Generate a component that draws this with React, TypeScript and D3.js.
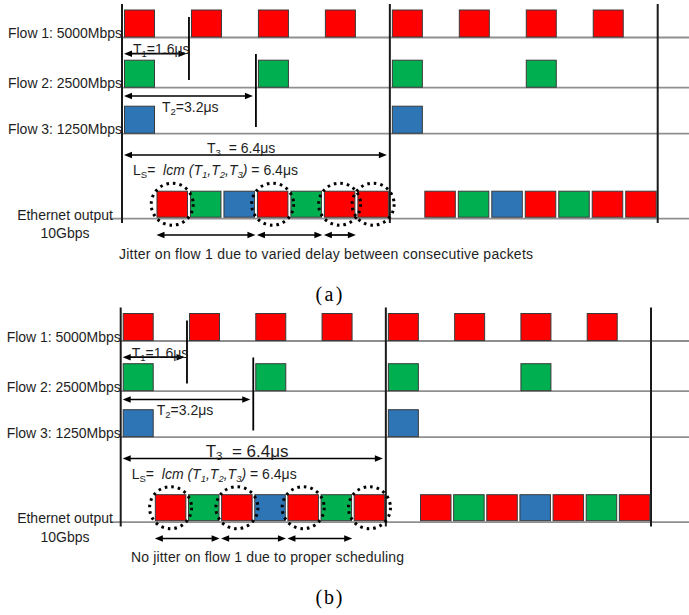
import React from "react";
import * as d3 from "d3";

// ---------- data ----------
const flowLabels = ["Flow 1: 5000Mbps", "Flow 2: 2500Mbps", "Flow 3: 1250Mbps"];
const flow1Times = [0, 1.6, 3.2, 4.8, 6.4, 8.0, 9.6, 11.2];
const flow2Times = [0, 3.2, 6.4, 9.6];
const flow3Times = [0, 6.4];
const periods = [1.6, 3.2, 6.4];
const periodLabels = ["=1.6μs", "=3.2μs", "  = 6.4μs"];
const hyperperiod = 6.4;
const horizon = 12.8;

// Ethernet output: slot start times (μs) and the flow of each packet
const outSlotsA = [0.8, 1.6, 2.4, 3.2, 4.0, 4.8, 5.6, 7.2, 8.0, 8.8, 9.6, 10.4, 11.2, 12.0];
const outFlowsA = [1, 2, 3, 1, 2, 1, 1, 1, 2, 3, 1, 2, 1, 1];
const outSlotsB = [0.8, 1.6, 2.4, 3.2, 4.0, 4.8, 5.6, 7.2, 8.0, 8.8, 9.6, 10.4, 11.2, 12.0];
const outFlowsB = [1, 2, 1, 3, 1, 2, 1, 1, 2, 1, 3, 1, 2, 1];

const captions = [
  "Jitter on flow 1 due to varied delay between consecutive packets",
  "No jitter on flow 1 due to proper scheduling",
];
const panelTags = ["(a)", "(b)"];

// ---------- style ----------
const flowColors = ["#FF0000", "#00B050", "#2E75B6"];
const FONT = "'Liberation Sans', Arial, sans-serif";
const TEXT = "#1e1e1e";
const BOX_W = 30;
const BOX_H = 27;

function Arrow({ x1, x2, y }: { x1: number; x2: number; y: number }) {
  const h = 8, w = 3.3;
  return (
    <g>
      <line x1={x1 + 5} x2={x2 - 5} y1={y} y2={y} stroke="#000" strokeWidth={1.7} />
      <path d={`M${x1},${y} L${x1 + h},${y - w} L${x1 + h},${y + w} Z`} fill="#000" />
      <path d={`M${x2},${y} L${x2 - h},${y - w} L${x2 - h},${y + w} Z`} fill="#000" />
    </g>
  );
}

type PanelProps = {
  y0: number;
  xr: [number, number];
  slots: number[];
  flows: number[];
  caption: string;
  captionX: number;
  captionLen: number;
  t3Size: number;
  t2dx: number;
  tag: string;
  tagY: number;
};

function Panel(p: PanelProps) {
  const x = d3.scaleLinear().domain([0, horizon]).range(p.xr);
  const Y = (v: number) => p.y0 + v;
  const rowBase = [37.5, 87.7, 133.7];
  const ethBase = 218.7;
  const flowTimes = [flow1Times, flow2Times, flow3Times];
  const x0 = x(0);

  // flow-1 packets of the first hyper-period in the output
  const circled = p.slots
    .map((t, i) => ({ t, f: p.flows[i] }))
    .filter((d) => d.f === 1 && d.t < hyperperiod);

  const arrowYs = [53.7, 96, 155];
  const markerSpans: [number, number][] = [[17, 80], [54, 127]];

  return (
    <g fontFamily={FONT} fill={TEXT}>
      {/* row baselines */}
      {rowBase.map((b, i) => (
        <line key={"rb" + i} x1={x0} x2={689} y1={Y(b)} y2={Y(b)} stroke="#8f8f8f" strokeWidth={1.8} />
      ))}
      <line x1={110} x2={689} y1={Y(ethBase)} y2={Y(ethBase)} stroke="#8f8f8f" strokeWidth={1.8} />

      {/* hyper-period boundaries */}
      {[0, hyperperiod, horizon].map((t, i) => (
        <line key={"vb" + i} x1={x(t)} x2={x(t)} y1={Y(4)} y2={Y(223)} stroke="#1a1a1a" strokeWidth={2} />
      ))}

      {/* flow labels */}
      {flowLabels.map((l, i) => (
        <text key={"fl" + i} x={x0} y={Y(rowBase[i] + 0.7)} textAnchor="end" fontSize={14}
          textLength={114} lengthAdjust="spacing">{l}</text>
      ))}

      {/* flow packets */}
      {flowTimes.map((ts, fi) =>
        ts.map((t, j) => (
          <rect key={`p${fi}-${j}`} x={x(t) + 2.5} y={Y(rowBase[fi] - 0.5 - BOX_H)} width={BOX_W} height={BOX_H}
            fill={flowColors[fi]} stroke="#3a3a3a" strokeWidth={1} />
        ))
      )}

      {/* period markers */}
      {periods.slice(0, 2).map((T, i) => (
        <line key={"pm" + i} x1={x(T)} x2={x(T)} y1={Y(markerSpans[i][0])} y2={Y(markerSpans[i][1])}
          stroke="#000" strokeWidth={1.8} />
      ))}

      {/* period arrows */}
      {periods.map((T, i) => (
        <Arrow key={"pa" + i} x1={x0 + 2} x2={x(T) - (i === 0 ? 2.5 : 3)} y={Y(arrowYs[i])} />
      ))}
      <text x={x0 + 11} y={Y(54)} fontSize={14}>
        T<tspan fontSize={9.5} dy={3}>1</tspan><tspan dy={-3}>{periodLabels[0]}</tspan>
      </text>
      <text x={x0 + p.t2dx} y={Y(111.5)} fontSize={14}>
        T<tspan fontSize={9.5} dy={3}>2</tspan><tspan dy={-3}>{periodLabels[1]}</tspan>
      </text>
      <text x={x0 + 85} y={Y(153)} fontSize={p.t3Size} xmlSpace="preserve" style={{ whiteSpace: "pre" }}>
        T<tspan fontSize={p.t3Size * 0.68} dy={3}>3</tspan><tspan dy={-3}>{periodLabels[2]}</tspan>
      </text>

      {/* hyper-period formula */}
      <text x={x0 + 11} y={Y(175)} fontSize={14} style={{ whiteSpace: "pre" }}>
        L<tspan fontSize={9.5} dy={3}>S</tspan><tspan dy={-3}>{"=  "}</tspan>
        <tspan fontStyle="italic">lcm (T</tspan><tspan fontStyle="italic" fontSize={9.5} dy={3}>1</tspan>
        <tspan fontStyle="italic" dy={-3}>,T</tspan><tspan fontStyle="italic" fontSize={9.5} dy={3}>2</tspan>
        <tspan fontStyle="italic" dy={-3}>,T</tspan><tspan fontStyle="italic" fontSize={9.5} dy={3}>3</tspan>
        <tspan fontStyle="italic" dy={-3}>)</tspan>
        <tspan>{" = 6.4μs"}</tspan>
      </text>

      {/* Ethernet output label */}
      <text x={65} y={Y(ethBase + 1.2)} textAnchor="middle" fontSize={14}>Ethernet output</text>
      <text x={65} y={Y(ethBase + 19.5)} textAnchor="middle" fontSize={14}>10Gbps</text>

      {/* output packets */}
      {p.slots.map((t, i) => (
        <rect key={"o" + i} x={x(t) + 1.5} y={Y(ethBase - 1.5 - 26)} width={BOX_W + 0.5} height={26}
          fill={flowColors[p.flows[i] - 1]} stroke="#3a3a3a" strokeWidth={1} />
      ))}

      {/* circled flow-1 packets */}
      {circled.map((d, i) => (
        <circle key={"c" + i} cx={x(d.t) + 1.5 + (BOX_W + 0.5) / 2} cy={Y(ethBase - 1.5 - 13)} r={21}
          fill="none" stroke="#000" strokeWidth={3} strokeDasharray="2.6 4" />
      ))}

      {/* inter-packet delay arrows */}
      {circled.slice(0, -1).map((d, i) => (
        <Arrow key={"ja" + i} x1={x(d.t) + 1} x2={x(circled[i + 1].t) - 0.5} y={Y(235)} />
      ))}

      <text x={p.captionX} y={Y(258.5)} fontSize={14} textLength={p.captionLen} lengthAdjust="spacing">
        {p.caption}
      </text>

      <text x={329} y={p.tagY} textAnchor="middle" fontSize={20} fill="#000"
        fontFamily="'Liberation Serif', 'Times New Roman', serif" textLength={27} lengthAdjust="spacing">
        {p.tag}
      </text>
    </g>
  );
}

export default function App() {
  return (
    <svg width={689} height={615} style={{ position: "absolute", left: 0, top: 0, background: "#fff" }}>
      <rect width={689} height={615} fill="#fff" />
      <Panel y0={0} xr={[122, 657.7]} slots={outSlotsA} flows={outFlowsA} caption={captions[0]}
        captionX={119} captionLen={414} t3Size={14} t2dx={40} tag={panelTags[0]} tagY={301} />
      <Panel y0={303.5} xr={[120.7, 651]} slots={outSlotsB} flows={outFlowsB} caption={captions[1]}
        captionX={131} captionLen={273} t3Size={17} t2dx={36} tag={panelTags[1]} tagY={604} />
    </svg>
  );
}
